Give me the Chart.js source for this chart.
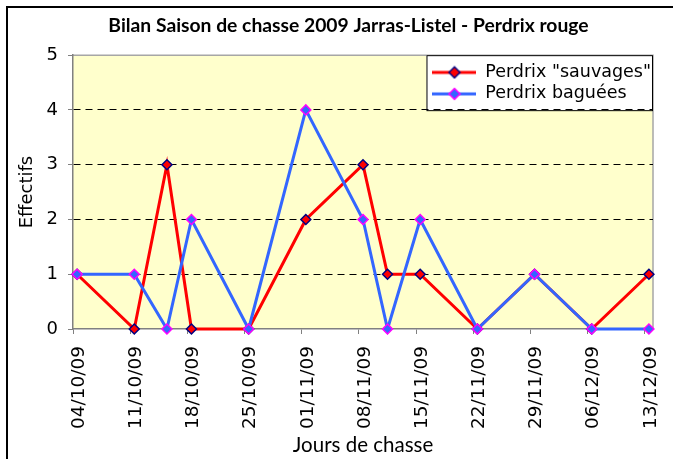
<!DOCTYPE html>
<html>
<head>
<meta charset="utf-8">
<title>Bilan Saison de chasse 2009 Jarras-Listel - Perdrix rouge</title>
<script src="https://cdn.jsdelivr.net/npm/chart.js@4.4.1/dist/chart.umd.min.js"></script>
<style>
  html, body { margin: 0; padding: 0; background: #fff; }
  #wrap { width: 673px; height: 459px; }
</style>
</head>
<body>
<div id="wrap"><canvas id="chart"></canvas></div>
<script>
// hunting days, counted in days from 04/10/09
const days = [0, 7, 11, 14, 21, 28, 35, 38, 42, 49, 56, 63, 70];
const sauvages = [1, 0, 3, 0, 0, 2, 3, 1, 1, 0, 1, 0, 1];
const baguees = [1, 1, 0, 2, 0, 4, 2, 0, 2, 0, 1, 0, 0];
const seriesNames = ['Perdrix "sauvages"', 'Perdrix baguées'];
const tickLabels = ['04/10/09', '11/10/09', '18/10/09', '25/10/09', '01/11/09', '08/11/09',
    '15/11/09', '22/11/09', '29/11/09', '06/12/09', '13/12/09'];
const tickStep = 7;

Chart.defaults.font.family = 'DejaVu Sans';
Chart.defaults.color = '#000';

const toPoints = (values) => values.map((v, i) => ({ x: days[i], y: v }));

// line + diamond icon for the legend
function legendIcon(line, fill, stroke) {
    const c = document.createElement('canvas');
    c.width = 44;
    c.height = 14;
    const g = c.getContext('2d');
    g.strokeStyle = line;
    g.lineWidth = 3;
    g.beginPath();
    g.moveTo(0, 7);
    g.lineTo(44, 7);
    g.stroke();
    g.beginPath();
    g.moveTo(22, 1.5);
    g.lineTo(27.5, 7);
    g.lineTo(22, 12.5);
    g.lineTo(16.5, 7);
    g.closePath();
    g.fillStyle = fill;
    g.fill();
    g.lineWidth = 1.5;
    g.strokeStyle = stroke;
    g.stroke();
    return c;
}

const icons = [
    legendIcon('#ff0000', '#ff0000', '#000080'),
    legendIcon('#3366ff', '#3366ff', '#ff00ff')
];

// moves title and legend where the Excel chart has them
const placeBoxes = {
    id: 'placeBoxes',
    afterLayout(chart) {
        const a = chart.chartArea;
        const t = chart.titleBlock;
        t.left += 22;
        t.right += 22;

        const lg = chart.legend;
        const w = Math.max(...lg.legendHitBoxes.map(h => h.width));
        lg.left = a.right - 2 - w - 4;
        lg.right = a.right;
        lg.top = a.top + 4.5;
        lg.bottom = a.bottom;
        lg.width = lg.right - lg.left;
        lg.height = lg.bottom - lg.top;
    },
    beforeDraw(chart) {
        const ctx = chart.ctx;
        const a = chart.chartArea;
        ctx.save();
        ctx.fillStyle = '#ffffcc';
        ctx.fillRect(a.left, a.top, a.width, a.height);
        ctx.strokeStyle = '#a6a6a6';
        ctx.lineWidth = 1.5;
        ctx.beginPath();
        ctx.moveTo(a.left, a.top);
        ctx.lineTo(a.right, a.top);
        ctx.lineTo(a.right, a.bottom);
        ctx.stroke();

        const lg = chart.legend;
        const hb = lg.legendHitBoxes;
        const last = hb[hb.length - 1];
        const x0 = lg.left - 2;
        const y1 = last.top + last.height + 7.5;
        ctx.fillStyle = '#fff';
        ctx.fillRect(x0, a.top, a.right - x0, y1 - a.top);
        ctx.strokeStyle = '#000';
        ctx.lineWidth = 1;
        ctx.strokeRect(x0 + 0.5, a.top + 0.5, a.right - x0 - 1, y1 - a.top);
        ctx.restore();
    },
    afterDraw(chart) {
        const ctx = chart.ctx;
        ctx.save();
        ctx.strokeStyle = '#000';
        ctx.lineWidth = 2;
        ctx.strokeRect(7, 7, 900, 900);
        ctx.restore();
    }
};

new Chart(document.getElementById('chart'), {
    type: 'line',
    data: {
        datasets: [
            {
                label: seriesNames[0],
                data: toPoints(sauvages),
                order: 1,
                borderColor: '#ff0000',
                borderWidth: 3,
                pointStyle: 'rectRot',
                pointRadius: 5,
                pointBorderWidth: 1.5,
                pointBackgroundColor: '#ff0000',
                pointBorderColor: '#000080',
                clip: false
            },
            {
                label: seriesNames[1],
                data: toPoints(baguees),
                order: 0,
                borderColor: '#3366ff',
                borderWidth: 3,
                pointStyle: 'rectRot',
                pointRadius: 5,
                pointBorderWidth: 1.5,
                pointBackgroundColor: '#3366ff',
                pointBorderColor: '#ff00ff',
                clip: false
            }
        ]
    },
    options: {
        responsive: true,
        maintainAspectRatio: false,
        animation: false,
        devicePixelRatio: 1,
        layout: { padding: { left: 0, right: 20, top: 0, bottom: 0 } },
        scales: {
            x: {
                type: 'linear',
                min: days[0] - 0.5,
                max: days[days.length - 1] + 0.5,
                afterBuildTicks: (scale) => {
                    scale.ticks = tickLabels.map((l, i) => ({ value: days[0] - 0.5 + i * tickStep }));
                },
                afterFit: (scale) => {
                    scale.height = 130;
                    scale.paddingLeft = 0;
                    scale.paddingRight = 0;
                },
                ticks: {
                    autoSkip: false,
                    maxRotation: 90,
                    minRotation: 90,
                    padding: 12,
                    labelOffset: 6,
                    font: { size: 18.5 },
                    callback: (v, i) => tickLabels[i]
                },
                grid: {
                    drawOnChartArea: false,
                    tickLength: 5,
                    tickColor: '#808080',
                    tickWidth: 1
                },
                border: { color: '#808080', width: 1.5 },
                title: {
                    display: true,
                    text: 'Jours de chasse',
                    font: { family: 'Lato', size: 20.5 },
                    padding: { top: 0, bottom: 1 }
                }
            },
            y: {
                min: 0,
                max: 5,
                afterFit: (scale) => { scale.width = 73; },
                ticks: {
                    stepSize: 1,
                    padding: 10,
                    font: { size: 18 }
                },
                grid: {
                    color: (c) => (c.tick && c.tick.value > 0 && c.tick.value < 5) ? '#000' : 'rgba(0,0,0,0)',
                    lineWidth: 1,
                    tickLength: 5,
                    tickColor: '#808080',
                    tickWidth: 1
                },
                border: { color: '#808080', width: 1.5, dash: [7, 5] },
                title: {
                    display: true,
                    text: 'Effectifs',
                    font: { size: 18 },
                    padding: { top: 17, bottom: 0 }
                }
            }
        },
        plugins: {
            title: {
                display: true,
                text: 'Bilan Saison de chasse 2009 Jarras-Listel - Perdrix rouge',
                font: { family: 'Lato', size: 19.3, weight: 'bold' },
                padding: { top: 14, bottom: 18 }
            },
            legend: {
                position: 'chartArea',
                align: 'start',
                labels: {
                    usePointStyle: true,
                    pointStyleWidth: 44,
                    padding: 4,
                    color: '#000',
                    font: { size: 17.5 },
                    sort: (a, b) => a.datasetIndex - b.datasetIndex,
                    generateLabels: (chart) => {
                        const items = Chart.defaults.plugins.legend.labels.generateLabels(chart);
                        items.forEach(it => { it.pointStyle = icons[it.datasetIndex]; });
                        return items;
                    }
                }
            },
            tooltip: { enabled: false }
        }
    },
    plugins: [placeBoxes]
});
</script>
</body>
</html>
